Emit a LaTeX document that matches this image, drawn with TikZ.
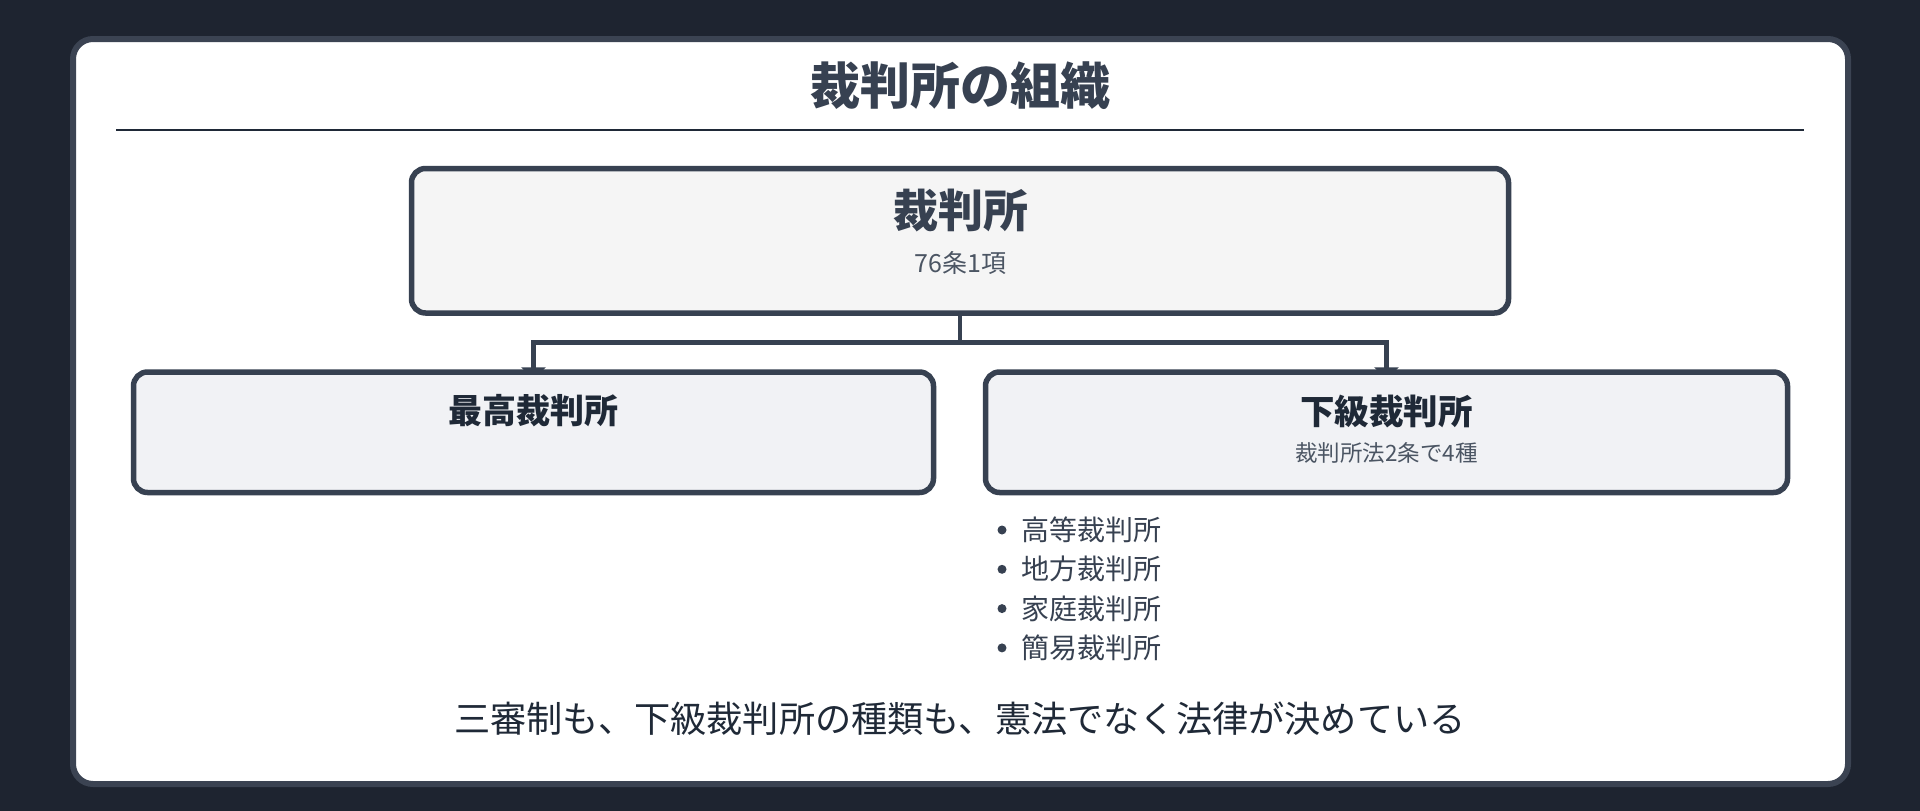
\documentclass[tikz,border=0pt]{standalone}
\usepackage{fontspec}
\setmainfont{Noto Sans CJK JP}
\usetikzlibrary{arrows.meta}
\definecolor{bgdark}{HTML}{1E2430}
\definecolor{cardborder}{HTML}{3B4352}
\definecolor{boxborder}{HTML}{374151}
\definecolor{toptext}{HTML}{374151}
\definecolor{darktext}{HTML}{1F2937}
\definecolor{graytext}{HTML}{4B5563}
\definecolor{topfill}{HTML}{F5F5F5}
\definecolor{subfill}{HTML}{F1F2F5}
\pgfdeclarelayer{back}
\pgfdeclarelayer{mid}
\pgfsetlayers{back,mid,main}
\tikzset{
  card/.style={draw=cardborder, line width=6pt, fill=white, rounded corners=20pt},
  orgbox/.style={draw=boxborder, line width=5.5pt, rounded corners=14pt, inner sep=0pt},
  conn/.style={draw=boxborder, line width=4.5pt},
  connarrow/.style={conn, -{Triangle[length=12pt,width=24pt]}},
  txt/.style={inner sep=0pt, anchor=center},
  bulletdot/.style={circle, fill=boxborder, inner sep=0pt, minimum size=9pt}
}
\begin{document}
\begin{tikzpicture}[x=1pt,y=-1pt]
\begin{pgfonlayer}{back}
\fill[bgdark] (0,0) rectangle (1920,811);
\draw[card] (73,39) rectangle (1848,784);
\end{pgfonlayer}
\useasboundingbox (0,0) rectangle (1920,811);
\node[txt, font=\fontsize{50}{58}\selectfont\bfseries, text=toptext] (title) at (960,86) {裁判所の組織};
\coordinate (ruleL) at (116,130);
\coordinate (ruleR) at (1804,130);
\draw[darktext, line width=2pt] (ruleL) -- (ruleR);

\node[orgbox, fill=topfill, minimum width=1097pt, minimum height=144.5pt] (court) at (960,240.75) {};
\node[txt, font=\fontsize{45}{52}\selectfont\bfseries, text=toptext] (courtT) at (960.5,211) {裁判所};
\node[txt, font=\fontsize{25}{30}\selectfont, text=graytext] (courtS) at (960.5,263) {76条1項};

\node[orgbox, fill=subfill, minimum width=800pt, minimum height=120.5pt] (supreme) at (533.5,432.25) {};
\node[txt, font=\fontsize{34}{40}\selectfont\bfseries, text=darktext] (supremeT) at (533.5,411) {最高裁判所};

\node[orgbox, fill=subfill, minimum width=802pt, minimum height=120.5pt] (lower) at (1386.5,432.25) {};
\node[txt, font=\fontsize{34.5}{40}\selectfont\bfseries, text=darktext] (lowerT) at (1386.5,411) {下級裁判所};
\node[txt, font=\fontsize{22.5}{27}\selectfont, text=graytext] (lowerS) at (1386.5,453) {裁判所法2条で4種};

\coordinate (junction) at (960,342.5);
\begin{pgfonlayer}{mid}
\draw[conn] (court.south) -- (junction);
\draw[connarrow] (junction) -| ([yshift=-10pt]supreme.north);
\draw[connarrow] (junction) -| ([yshift=-10pt]lower.north);
\end{pgfonlayer}

\foreach \t [count=\i] in {高等裁判所,地方裁判所,家庭裁判所,簡易裁判所}{
  \node[bulletdot] (dot\i) at (1002,{530+39.3*(\i-1)}) {};
  \node[inner sep=0pt, anchor=west, font=\fontsize{28}{33}\selectfont, text=toptext] (item\i) at (1021,{530+39.3*(\i-1)}) {\t};
}

\node[txt, font=\fontsize{36.2}{42}\selectfont, text=darktext] (note) at (960,719) {三審制も、下級裁判所の種類も、憲法でなく法律が決めている};
\end{tikzpicture}
\end{document}
